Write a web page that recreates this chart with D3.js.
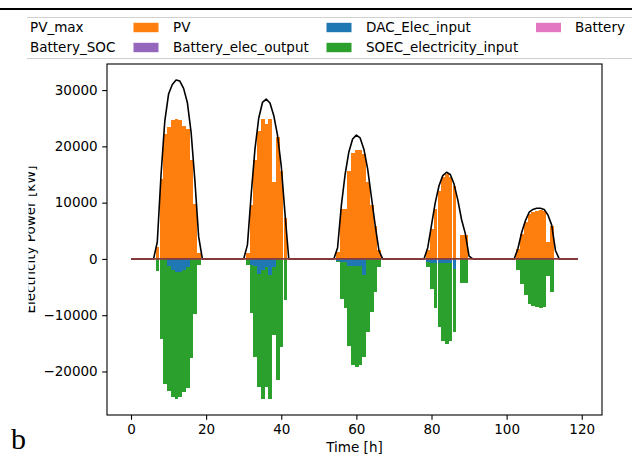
<!DOCTYPE html>
<html>
<head>
<meta charset="utf-8">
<script src="https://cdn.jsdelivr.net/npm/d3@7"></script>
<style>
  body { margin: 0; background: #fff; }
  svg { display: block; }
</style>
</head>
<body>
<svg id="chart" width="632" height="464"></svg>
<script>
// hourly time steps
const hours = d3.range(120)

// one row per day (24 h)
const pvMax = [
  0,0,0,0,0,0, 0,3000,15000,24500,29300,31000, 31800,31600,30300,27800,22500,14000, 4000,0,0,0,0,0,
  0,0,0,0,0,0, 0,2500,11500,19500,25000,27800, 28400,27700,25500,22000,16500,8000, 0,0,0,0,0,0,
  0,0,0,0,0,0, 0,2000,9500,15000,19000,21300, 22000,21500,19500,16000,11000,6000, 1500,0,0,0,0,0,
  0,0,0,0,0,0, 0,2000,6000,10000,13000,14800, 15400,15000,13300,10500,7000,4500, 500,0,0,0,0,0,
  0,0,0,0,0,0, 0,1800,4700,6800,8300,8800, 9000,9000,8800,7800,6000,1500, 0,0,0,0,0,0
]
const pv = [
  0,0,0,0,0,0, 0,2200,14200,22200,23400,24600, 24900,24600,23700,23000,17600,9700, 1000,0,0,0,0,0,
  0,0,0,0,0,0, 0,1000,9600,17500,22800,24900, 24000,24900,13600,21600,15700,7300, 0,0,0,0,0,0,
  0,0,0,0,0,0, 0,1200,8900,8900,15700,18900, 19300,19300,18600,13600,9500,5900, 1500,0,0,0,0,0,
  0,0,0,0,0,0, 0,1500,5300,8800,12100,14500, 15100,14500,13000,0,4200,4200, 0,0,0,0,0,0,
  0,0,0,0,0,0, 0,1800,4400,6500,8000,8400, 8600,8700,8500,3000,5900,0, 0,0,0,0,0,0
]
const dacInput = [
  0,0,0,0,0,0, 0,0,0,0,-1200,-2000, -2400,-2400,-2000,-1400,0,0, 0,0,0,0,0,0,
  0,0,0,0,0,0, 0,0,-1000,-1200,-2600,-2000, -1500,-2900,-1500,0,0,0, 0,0,0,0,0,0,
  0,0,0,0,0,0, 0,-400,-600,-600,-1200,-1200, -1200,-1200,-2900,0,0,0, 0,0,0,0,0,0,
  0,0,0,0,0,0, 0,-500,-700,-700,-700,-700, -700,-800,-1800,0,0,0, 0,0,0,0,0,0,
  0,0,0,0,0,0, 0,0,0,0,0,0, 0,0,0,0,0,0, 0,0,0,0,0,0
]
const soecInput = [
  0,0,0,0,0,0, 0,-2200,-14200,-22200,-22200,-22600, -22500,-22200,-21700,-21600,-17600,-9700, -1000,0,0,0,0,0,
  0,0,0,0,0,0, 0,-1000,-8600,-16300,-20200,-22900, -21300,-22000,-12100,-21600,-15700,-7300, 0,0,0,0,0,0,
  0,0,0,0,0,0, 0,-200,-6500,-8200,-14200,-17700, -18000,-17700,-14600,-13000,-9500,-5900, -1500,0,0,0,0,0,
  0,0,0,0,0,0, 0,-1000,-4600,-8100,-11400,-13800, -14400,-13700,-11200,0,-4200,-4200, 0,0,0,0,0,0,
  0,0,0,0,0,0, 0,-2000,-4400,-6500,-8000,-8400, -8600,-8700,-8500,-3000,-5900,0, 0,0,0,0,0,0
]
// battery stays empty in this run (SOC, output and input)
const batteryZero = [
  0,0,0,0,0,0, 0,0,0,0,0,0, 0,0,0,0,0,0, 0,0,0,0,0,0,
  0,0,0,0,0,0, 0,0,0,0,0,0, 0,0,0,0,0,0, 0,0,0,0,0,0,
  0,0,0,0,0,0, 0,0,0,0,0,0, 0,0,0,0,0,0, 0,0,0,0,0,0,
  0,0,0,0,0,0, 0,0,0,0,0,0, 0,0,0,0,0,0, 0,0,0,0,0,0,
  0,0,0,0,0,0, 0,0,0,0,0,0, 0,0,0,0,0,0, 0,0,0,0,0,0
]
const batterySOC = batteryZero
const batteryOutput = batteryZero
const batteryInput = batteryZero

const xTicks = [0, 20, 40, 60, 80, 100, 120]
const yTicks = [-20000, -10000, 0, 10000, 20000, 30000]

// legend labels, column by column (last one is cut by the crop)
const legendCols = [
  ['PV_max', 'Battery_SOC'],
  ['PV', 'Battery_elec_output'],
  ['DAC_Elec_input', 'SOEC_electricity_input'],
  ['Battery']
]

// colors
const colorPV = '#ff7f0e'
const colorDAC = '#1f77b4'
const colorSOEC = '#2ca02c'
const colorBatOut = '#9467bd'
const colorBatIn = '#e377c2'
const colorPVmax = '#000000'
const colorSOC = '#8c3a3a'

const svg = d3.select('#chart')
const plot = {left: 107, right: 602, top: 64, bottom: 415}
const fontSize = 13.5
const sans = '"DejaVu Sans", sans-serif'
const barW = 0.8

// scales with matplotlib-like 5% margins
const xLo = d3.min(hours) - barW / 2, xHi = d3.max(hours) + barW / 2
const xPad = (xHi - xLo) * 0.05
const x = d3.scaleLinear().domain([xLo - xPad, xHi + xPad]).range([plot.left, plot.right])

const stackLow = hours.map(i => dacInput[i] + soecInput[i] + batteryInput[i])
const yLo = d3.min(stackLow), yHi = d3.max(hours.map(i => Math.max(pvMax[i], pv[i])))
const yPad = (yHi - yLo) * 0.05
const y = d3.scaleLinear().domain([yLo - yPad, yHi + yPad]).range([plot.bottom, plot.top])

// bars
function drawBars(cls, color, y0s, y1s) {
  svg.append('g').attr('class', cls)
    .selectAll('rect').data(hours.filter(i => y0s[i] !== y1s[i])).join('rect')
    .attr('x', i => x(i - barW / 2))
    .attr('width', x(barW) - x(0) + 0.7)
    .attr('y', i => y(Math.max(y0s[i], y1s[i])))
    .attr('height', i => Math.abs(y(y0s[i]) - y(y1s[i])))
    .attr('fill', color)
    .attr('shape-rendering', 'crispEdges')
}
const zero = hours.map(() => 0)
drawBars('pv', colorPV, zero, pv)
drawBars('bat-out', colorBatOut, pv, hours.map(i => pv[i] + batteryOutput[i]))
drawBars('dac', colorDAC, zero, dacInput)
drawBars('soec', colorSOEC, dacInput, hours.map(i => dacInput[i] + soecInput[i]))
drawBars('bat-in', colorBatIn, hours.map(i => dacInput[i] + soecInput[i]), stackLow)

// lines
const line = arr => d3.line().x(i => x(i)).y(i => y(arr[i]))(hours)
svg.append('path').attr('d', line(pvMax)).attr('fill', 'none')
  .attr('stroke', colorPVmax).attr('stroke-width', 1.6).attr('stroke-linejoin', 'round')
svg.append('path').attr('d', line(batterySOC)).attr('fill', 'none')
  .attr('stroke', colorSOC).attr('stroke-width', 1.6)

// axes
const xAxis = svg.append('g').attr('transform', `translate(0,${plot.bottom})`)
  .call(d3.axisBottom(x).tickValues(xTicks).tickSize(4.8).tickPadding(4.5).tickFormat(d3.format('d')))
const yAxis = svg.append('g').attr('transform', `translate(${plot.left},0)`)
  .call(d3.axisLeft(y).tickValues(yTicks).tickSize(4.8).tickPadding(4.5).tickFormat(d3.format('d')))
for (const ax of [xAxis, yAxis]) {
  ax.select('.domain').remove()
  ax.selectAll('text').attr('font-size', fontSize).attr('font-family', sans).attr('fill', '#000')
  ax.selectAll('line').attr('stroke', '#000').attr('stroke-width', 1.1)
}
svg.append('rect')
  .attr('x', plot.left).attr('y', plot.top)
  .attr('width', plot.right - plot.left).attr('height', plot.bottom - plot.top)
  .attr('fill', 'none').attr('stroke', '#000').attr('stroke-width', 1.1)

svg.append('text').attr('x', (plot.left + plot.right) / 2).attr('y', 452)
  .attr('text-anchor', 'middle').attr('font-size', fontSize).attr('font-family', sans)
  .text('Time [h]')

// y label, its left part is cut off in the source image
svg.append('defs').append('clipPath').attr('id', 'ylab-clip')
  .append('rect').attr('x', 28.5).attr('y', 0).attr('width', 100).attr('height', 464)
svg.append('g').attr('clip-path', 'url(#ylab-clip)')
  .append('text')
  .attr('transform', `translate(35,${(plot.top + plot.bottom) / 2}) rotate(-90)`)
  .attr('text-anchor', 'middle').attr('font-size', fontSize).attr('font-family', sans)
  .text('Electricity Power [kW]')

// legend
const legend = svg.append('g')
legend.append('rect').attr('x', -20).attr('y', 17.5).attr('width', 700).attr('height', 41)
  .attr('rx', 3).attr('fill', '#fff').attr('stroke', '#d0d0d0').attr('stroke-width', 1)
const colText = [30, 173, 366, 575]
const colHandle = [-5, 133.5, 326.5, 536]
const rowY = [27.5, 47.5]
const handleColors = [
  [colorPVmax, colorSOC],
  [colorPV, colorBatOut],
  [colorDAC, colorSOEC],
  [colorBatIn]
]
legendCols.forEach((col, c) => {
  col.forEach((label, r) => {
    if (c === 0) {
      legend.append('line').attr('x1', colHandle[c]).attr('x2', colHandle[c] + 25)
        .attr('y1', rowY[r]).attr('y2', rowY[r])
        .attr('stroke', handleColors[c][r]).attr('stroke-width', 1.6)
    } else {
      legend.append('rect').attr('x', colHandle[c]).attr('y', rowY[r] - 4.7)
        .attr('width', 25).attr('height', 9.4).attr('fill', handleColors[c][r])
    }
    legend.append('text').attr('x', colText[c]).attr('y', rowY[r]).attr('dy', '0.35em')
      .attr('font-size', fontSize).attr('font-family', sans).text(label)
  })
})

// the figure is cropped on the left
svg.append('rect').attr('x', 0).attr('y', 12).attr('width', 27).attr('height', 452).attr('fill', '#fff')
svg.append('line').attr('x1', 0).attr('x2', 632).attr('y1', 9).attr('y2', 9)
  .attr('stroke', '#000').attr('stroke-width', 2)

svg.append('text').attr('x', 11).attr('y', 449)
  .attr('font-family', '"Liberation Serif", "Times New Roman", serif').attr('font-size', 30).text('b')
</script>
</body>
</html>
